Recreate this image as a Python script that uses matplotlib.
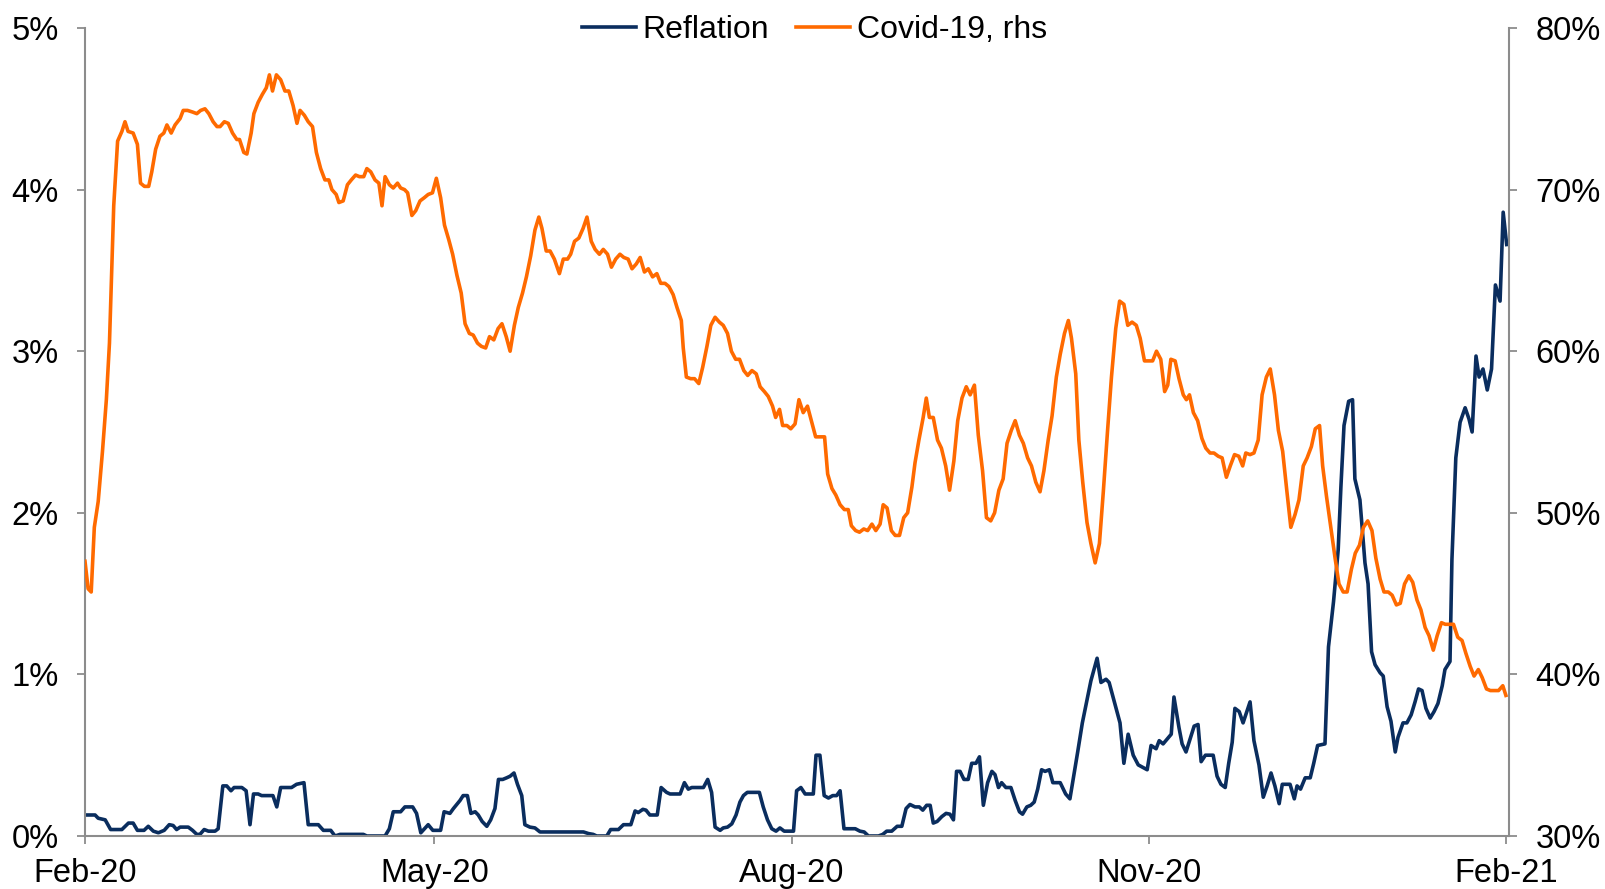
import matplotlib
matplotlib.use('Agg')
import matplotlib.pyplot as plt
from matplotlib.ticker import FuncFormatter
import pandas as pd

plt.rcParams['font.family'] = ['Liberation Sans', 'DejaVu Sans']

# ---------------- data ----------------
start_date = '2020-02-01'

covid_days = [
    0.0, 0.8, 1.6, 2.4, 3.4, 4.5, 5.5, 6.3, 7.4, 8.4,
    9.5, 10.3, 11.1, 12.4, 13.5, 14.3, 15.3, 16.4, 17.2, 18.2,
    19.3, 20.3, 21.1, 22.2, 23.2, 24.5, 25.3, 26.4, 27.7, 28.8,
    29.8, 30.9, 31.9, 33.0, 34.0, 34.8, 35.9, 36.9, 38.0, 39.1,
    39.8, 40.9, 41.7, 42.8, 43.5, 44.6, 45.7, 46.7, 47.5, 48.3,
    49.3, 50.4, 51.5, 52.5, 53.6, 54.6, 55.4, 56.5, 57.5, 58.6,
    59.6, 60.7, 61.8, 62.8, 63.6, 64.7, 65.4, 66.5, 67.6, 68.6,
    69.7, 70.7, 71.8, 72.6, 73.6, 74.7, 75.7, 76.5, 77.3, 78.4,
    79.4, 80.5, 81.3, 82.3, 83.1, 84.2, 85.2, 86.3, 87.4, 88.4,
    89.5, 90.5, 91.6, 92.6, 93.7, 94.7, 95.8, 96.9, 97.9, 99.0,
    100.0, 101.1, 102.1, 103.2, 104.2, 105.3, 106.4, 107.4, 108.5, 109.5,
    110.6, 111.6, 112.7, 113.7, 114.8, 115.9, 116.9, 117.7, 118.8, 119.8,
    120.9, 122.2, 123.2, 124.3, 125.1, 126.1, 127.2, 128.3, 129.3, 130.4,
    131.4, 132.5, 133.5, 134.6, 135.6, 136.7, 137.8, 138.8, 139.9, 140.9,
    142.0, 143.0, 144.1, 145.1, 146.2, 147.3, 148.3, 149.4, 150.4, 151.5,
    152.5, 153.6, 154.1, 154.9, 156.0, 157.0, 158.1, 159.1, 160.2, 161.2,
    162.3, 163.4, 164.4, 165.5, 166.5, 167.6, 168.6, 169.7, 170.7, 171.8,
    172.9, 173.9, 175.0, 176.0, 177.1, 177.9, 178.9, 179.7, 180.8, 181.8,
    182.9, 183.9, 185.0, 186.1, 187.1, 188.2, 189.2, 190.5, 191.3, 192.4,
    193.4, 194.5, 195.6, 196.6, 197.4, 198.5, 199.5, 200.6, 201.6, 202.7,
    203.7, 204.8, 205.6, 206.6, 207.7, 208.7, 209.8, 210.9, 211.9, 213.0,
    213.8, 214.8, 215.9, 216.7, 217.5, 218.5, 219.6, 220.6, 221.7, 222.7,
    223.8, 224.8, 225.9, 227.0, 228.0, 229.1, 230.1, 231.2, 232.2, 233.3,
    234.3, 235.4, 236.5, 237.5, 238.6, 239.6, 240.7, 241.7, 242.8, 243.8,
    244.9, 246.0, 247.0, 248.1, 249.1, 250.2, 251.2, 252.3, 253.3, 254.1,
    255.2, 256.0, 257.0, 258.1, 259.1, 260.2, 261.3, 262.3, 263.4, 264.4,
    265.5, 266.5, 267.6, 268.6, 269.7, 270.8, 271.8, 272.9, 273.9, 275.0,
    276.0, 277.1, 278.1, 278.9, 279.7, 280.8, 281.8, 282.9, 283.7, 284.5,
    285.5, 286.6, 287.7, 288.7, 289.8, 290.8, 291.9, 292.9, 294.0, 295.0,
    296.1, 297.2, 298.2, 299.0, 300.1, 301.1, 302.2, 303.2, 304.3, 305.3,
    306.4, 307.4, 308.5, 309.6, 310.6, 311.7, 312.7, 313.8, 314.8, 315.9,
    316.9, 318.0, 318.8, 319.8, 320.9, 322.0, 323.0, 324.1, 325.1, 326.2,
    327.2, 328.3, 329.3, 330.4, 331.5, 332.5, 333.6, 334.6, 335.7, 336.7,
    337.8, 338.8, 339.9, 341.0, 342.0, 343.1, 344.1, 345.2, 346.2, 347.3,
    348.3, 349.4, 350.4, 351.5, 352.5, 353.6, 354.7, 355.7, 356.8, 357.8,
    358.9, 359.9, 361.0, 362.0, 363.1, 364.1, 365.2, 366.0,
]
covid = [
    47.0, 45.3, 45.1, 49.1, 50.7, 53.8, 57.0, 60.5, 69.0, 73.0,
    73.6, 74.2, 73.6, 73.5, 72.8, 70.4, 70.2, 70.2, 71.1, 72.5,
    73.3, 73.5, 74.0, 73.5, 74.0, 74.4, 74.9, 74.9, 74.8, 74.7,
    74.9, 75.0, 74.7, 74.2, 73.9, 73.9, 74.2, 74.1, 73.5, 73.1,
    73.1, 72.3, 72.2, 73.5, 74.7, 75.4, 75.9, 76.3, 77.1, 76.1,
    77.1, 76.8, 76.1, 76.1, 75.2, 74.1, 74.9, 74.6, 74.2, 73.9,
    72.3, 71.3, 70.6, 70.6, 70.0, 69.7, 69.2, 69.3, 70.3, 70.6,
    70.9, 70.8, 70.8, 71.3, 71.1, 70.6, 70.4, 69.0, 70.8, 70.3,
    70.1, 70.4, 70.1, 70.0, 69.8, 68.4, 68.7, 69.3, 69.5, 69.7,
    69.8, 70.7, 69.5, 67.8, 66.9, 66.0, 64.7, 63.6, 61.7, 61.1,
    61.0, 60.5, 60.3, 60.2, 60.9, 60.7, 61.4, 61.7, 60.9, 60.0,
    61.6, 62.7, 63.6, 64.6, 65.9, 67.5, 68.3, 67.6, 66.2, 66.2,
    65.7, 64.8, 65.7, 65.7, 66.0, 66.8, 67.0, 67.6, 68.3, 66.8,
    66.3, 66.0, 66.3, 66.0, 65.2, 65.7, 66.0, 65.8, 65.7, 65.1,
    65.4, 65.8, 64.9, 65.1, 64.6, 64.8, 64.2, 64.2, 64.0, 63.5,
    62.7, 61.9, 60.2, 58.4, 58.3, 58.3, 58.0, 59.0, 60.3, 61.6,
    62.1, 61.8, 61.6, 61.1, 60.0, 59.5, 59.5, 58.8, 58.5, 58.8,
    58.6, 57.8, 57.5, 57.2, 56.6, 55.9, 56.4, 55.4, 55.4, 55.2,
    55.5, 57.0, 56.2, 56.6, 55.7, 54.7, 54.7, 54.7, 52.4, 51.5,
    51.1, 50.5, 50.2, 50.2, 49.2, 48.9, 48.8, 49.0, 48.9, 49.3,
    48.9, 49.3, 50.5, 50.3, 48.9, 48.6, 48.6, 49.7, 50.0, 51.6,
    53.1, 54.5, 55.9, 57.1, 55.9, 55.9, 54.5, 54.0, 52.9, 51.4,
    53.2, 55.7, 57.1, 57.8, 57.3, 57.9, 54.8, 52.6, 49.7, 49.5,
    50.0, 51.4, 52.1, 54.3, 55.1, 55.7, 54.8, 54.3, 53.4, 52.9,
    51.9, 51.3, 52.6, 54.5, 56.0, 58.4, 59.8, 61.1, 61.9, 60.8,
    58.6, 54.5, 51.9, 49.4, 48.1, 46.9, 48.1, 51.3, 55.1, 58.4,
    61.4, 63.1, 62.9, 61.6, 61.8, 61.6, 60.8, 59.4, 59.4, 59.4,
    60.0, 59.5, 57.5, 57.9, 59.5, 59.4, 58.3, 57.3, 57.0, 57.3,
    56.2, 55.7, 54.6, 54.0, 53.7, 53.7, 53.5, 53.4, 52.2, 52.9,
    53.6, 53.5, 52.9, 53.7, 53.6, 53.7, 54.5, 57.3, 58.4, 58.9,
    57.3, 55.1, 53.8, 51.3, 49.1, 49.9, 50.8, 52.9, 53.4, 54.1,
    55.2, 55.4, 52.9, 51.0, 49.1, 47.2, 45.6, 45.1, 45.1, 46.5,
    47.5, 48.0, 49.1, 49.5, 48.9, 47.2, 45.9, 45.1, 45.1, 44.9,
    44.3, 44.4, 45.6, 46.1, 45.7, 44.6, 44.0, 42.9, 42.4, 41.5,
    42.4, 43.2, 43.1, 43.1, 43.1, 42.3, 42.1, 41.3, 40.5, 39.9,
    40.3, 39.8, 39.1, 39.0, 39.0, 39.0, 39.3, 38.7,
]

reflation_days = [
    0.0, 2.6, 3.4, 5.2, 6.6, 9.5, 11.2, 12.4, 13.5, 15.2,
    16.3, 17.6, 18.9, 20.4, 21.7, 22.7, 23.6, 24.5, 26.6, 27.7,
    28.8, 29.6, 30.7, 31.8, 33.5, 34.3, 35.5, 36.5, 37.6, 38.4,
    40.4, 41.5, 42.5, 43.4, 44.6, 45.5, 48.4, 49.4, 50.4, 53.2,
    54.5, 56.4, 57.5, 60.1, 61.4, 63.3, 64.4, 65.7, 71.7, 72.6,
    77.3, 78.4, 79.4, 81.3, 82.4, 84.4, 85.4, 86.5, 88.4, 89.6,
    91.6, 92.5, 94.0, 94.9, 96.6, 97.4, 98.5, 99.4, 100.5, 101.3,
    102.3, 103.5, 104.5, 105.6, 106.5, 107.6, 108.6, 109.5, 110.5, 111.4,
    112.5, 113.3, 114.6, 115.9, 117.2, 127.5, 128.4, 129.7, 130.9, 131.8,
    134.4, 135.4, 137.4, 138.7, 140.6, 141.7, 142.5, 143.7, 144.5, 145.5,
    147.4, 148.4, 149.8, 150.7, 153.3, 154.4, 155.4, 156.3, 159.3, 160.4,
    161.4, 162.3, 163.6, 164.4, 165.5, 166.6, 167.7, 168.7, 169.6, 170.6,
    173.7, 174.7, 175.8, 176.9, 178.0, 179.0, 180.1, 182.5, 183.3, 184.4,
    185.5, 187.6, 188.3, 189.3, 190.4, 191.5, 192.6, 193.6, 194.5, 195.5,
    198.4, 199.6, 200.7, 201.8, 204.4, 205.5, 206.5, 207.8, 209.2, 210.4,
    211.5, 212.5, 213.8, 214.9, 215.8, 216.8, 217.7, 218.5, 219.5, 220.7,
    221.8, 222.8, 223.7, 224.5, 225.4, 226.4, 227.5, 228.4, 229.5, 230.4,
    231.4, 232.5, 233.6, 234.4, 235.3, 236.1, 237.2, 238.5, 239.6, 240.7,
    241.5, 242.6, 243.6, 244.5, 245.4, 246.4, 247.3, 248.4, 249.3, 251.2,
    252.6, 253.7, 255.7, 256.9, 259.1, 260.7, 261.7, 263.0, 263.8, 265.6,
    266.6, 267.6, 268.7, 270.0, 271.3, 273.6, 274.6, 275.9, 276.7, 277.7,
    279.8, 280.5, 281.8, 282.6, 283.6, 284.9, 285.7, 286.7, 287.5, 288.6,
    290.6, 291.6, 292.6, 293.7, 294.6, 295.5, 296.2, 297.3, 298.3, 300.1,
    301.1, 302.4, 303.5, 304.5, 305.5, 306.5, 307.6, 308.4, 310.4, 311.5,
    312.2, 313.1, 314.3, 315.6, 316.5, 317.5, 319.4, 320.3, 321.6, 322.8,
    323.5, 324.3, 325.5, 326.5, 327.1, 328.4, 329.7, 330.5, 331.4, 332.3,
    333.6, 334.4, 335.4, 336.4, 337.5, 338.2, 339.5, 340.5, 341.6, 342.6,
    343.5, 344.4, 345.4, 346.5, 347.5, 348.5, 349.6, 350.3, 351.6, 352.1,
    353.1, 354.2, 355.5, 356.5, 357.3, 358.3, 359.1, 360.1, 361.2, 362.3,
    363.3, 364.5, 365.3, 366.2,
]
reflation = [
    0.13, 0.13, 0.11, 0.10, 0.04, 0.04, 0.08, 0.08, 0.035, 0.035,
    0.06, 0.03, 0.02, 0.035, 0.07, 0.065, 0.04, 0.055, 0.055, 0.035,
    0.01, 0.01, 0.04, 0.03, 0.03, 0.045, 0.31, 0.31, 0.28, 0.30,
    0.30, 0.28, 0.07, 0.26, 0.26, 0.25, 0.25, 0.18, 0.30, 0.30,
    0.32, 0.33, 0.07, 0.07, 0.035, 0.035, 0.0, 0.01, 0.01, 0.0,
    0.0, 0.045, 0.15, 0.15, 0.18, 0.18, 0.14, 0.02, 0.07, 0.035,
    0.035, 0.15, 0.14, 0.17, 0.22, 0.25, 0.25, 0.14, 0.15, 0.13,
    0.09, 0.06, 0.10, 0.17, 0.35, 0.35, 0.36, 0.37, 0.39, 0.32,
    0.25, 0.07, 0.055, 0.05, 0.025, 0.025, 0.025, 0.015, 0.01, 0.0,
    0.0, 0.04, 0.04, 0.07, 0.07, 0.155, 0.145, 0.165, 0.16, 0.13,
    0.13, 0.30, 0.27, 0.26, 0.26, 0.33, 0.29, 0.30, 0.30, 0.35,
    0.27, 0.055, 0.035, 0.05, 0.055, 0.075, 0.13, 0.21, 0.25, 0.27,
    0.27, 0.18, 0.10, 0.045, 0.03, 0.05, 0.03, 0.03, 0.28, 0.30,
    0.26, 0.26, 0.50, 0.50, 0.25, 0.235, 0.25, 0.25, 0.28, 0.045,
    0.045, 0.03, 0.025, 0.0, 0.0, 0.01, 0.03, 0.03, 0.06, 0.06,
    0.17, 0.195, 0.18, 0.18, 0.16, 0.19, 0.19, 0.08, 0.09, 0.12,
    0.14, 0.135, 0.10, 0.40, 0.40, 0.35, 0.35, 0.45, 0.45, 0.49,
    0.19, 0.33, 0.40, 0.38, 0.30, 0.33, 0.30, 0.30, 0.22, 0.15,
    0.135, 0.18, 0.19, 0.21, 0.29, 0.41, 0.40, 0.41, 0.33, 0.33,
    0.26, 0.23, 0.52, 0.70, 0.96, 1.10, 0.95, 0.97, 0.95, 0.79,
    0.70, 0.45, 0.63, 0.50, 0.44, 0.41, 0.56, 0.54, 0.59, 0.57,
    0.63, 0.86, 0.67, 0.57, 0.52, 0.62, 0.68, 0.69, 0.46, 0.50,
    0.50, 0.37, 0.32, 0.30, 0.45, 0.58, 0.79, 0.77, 0.70, 0.83,
    0.59, 0.44, 0.24, 0.31, 0.39, 0.31, 0.20, 0.32, 0.32, 0.23,
    0.31, 0.29, 0.36, 0.36, 0.45, 0.56, 0.57, 1.17, 1.45, 1.77,
    2.16, 2.54, 2.69, 2.70, 2.21, 2.08, 1.69, 1.56, 1.14, 1.06,
    1.01, 0.99, 0.80, 0.71, 0.52, 0.61, 0.70, 0.70, 0.75, 0.83,
    0.91, 0.90, 0.79, 0.73, 0.77, 0.82, 0.93, 1.03, 1.08, 1.71,
    2.34, 2.56, 2.65, 2.58, 2.50, 2.97, 2.84, 2.89, 2.76, 2.89,
    3.41, 3.31, 3.86, 3.66,
]

tick_dates = ['2020-02-01', '2020-05-01', '2020-08-01', '2020-11-01', '2021-02-01']
tick_labels = ['Feb-20', 'May-20', 'Aug-20', 'Nov-20', 'Feb-21']
left_ticks = [0, 1, 2, 3, 4, 5]
right_ticks = [30, 40, 50, 60, 70, 80]
series_names = ['Reflation', 'Covid-19, rhs']

# ---------------- plot ----------------
NAVY = '#0A2D5E'
ORANGE = '#FF6A00'
GREY = '#8C8C8C'
FS = 23.5

start = pd.Timestamp(start_date)
x_cov = start + pd.to_timedelta(covid_days, unit='D')
x_ref = start + pd.to_timedelta(reflation_days, unit='D')

W, H = 1606, 889
fig = plt.figure(figsize=(W / 100, H / 100), dpi=100)
L, R, T, B = 85, 1509, 28, 836
ax = fig.add_axes([L / W, 1 - B / H, (R - L) / W, (B - T) / H])
ax2 = ax.twinx()

l1, = ax.plot(x_ref, reflation, color=NAVY, lw=2.6, solid_joinstyle='round')
l2, = ax2.plot(x_cov, covid, color=ORANGE, lw=2.6, solid_joinstyle='round')

ax.set_ylim(0, 5)
ax2.set_ylim(30, 80)
ax.set_xlim(start, start + pd.Timedelta(days=366.8))

ax.set_yticks(left_ticks)
ax2.set_yticks(right_ticks)
fmt = FuncFormatter(lambda v, p: f'{v:.0f}%')
ax.yaxis.set_major_formatter(fmt)
ax2.yaxis.set_major_formatter(fmt)

ax.set_xticks(pd.to_datetime(tick_dates))
ax.set_xticklabels(tick_labels)

for a in (ax, ax2):
    a.spines['top'].set_visible(False)
    for s in a.spines.values():
        s.set_color(GREY)
        s.set_linewidth(1.5)
ax.spines['right'].set_visible(False)
ax2.spines['left'].set_visible(False)
ax2.spines['bottom'].set_visible(False)

ax.tick_params(axis='y', direction='out', length=6, width=1.3, color=GREY,
               labelsize=FS, pad=13, labelcolor='black')
ax2.tick_params(axis='y', direction='out', length=6, width=1.3, color=GREY,
                labelsize=FS, pad=13, labelcolor='black')
ax.tick_params(axis='x', direction='out', length=6, width=1.3, color=GREY,
               labelsize=FS, pad=10, labelcolor='black')

fig.legend([l1, l2], series_names, loc='center', bbox_to_anchor=(0.507, 1 - 30 / H),
           ncol=2, frameon=False, fontsize=23, handlelength=1.7,
           handletextpad=0.2, columnspacing=0.85, borderaxespad=0)

fig.savefig('out.png', dpi=100)
